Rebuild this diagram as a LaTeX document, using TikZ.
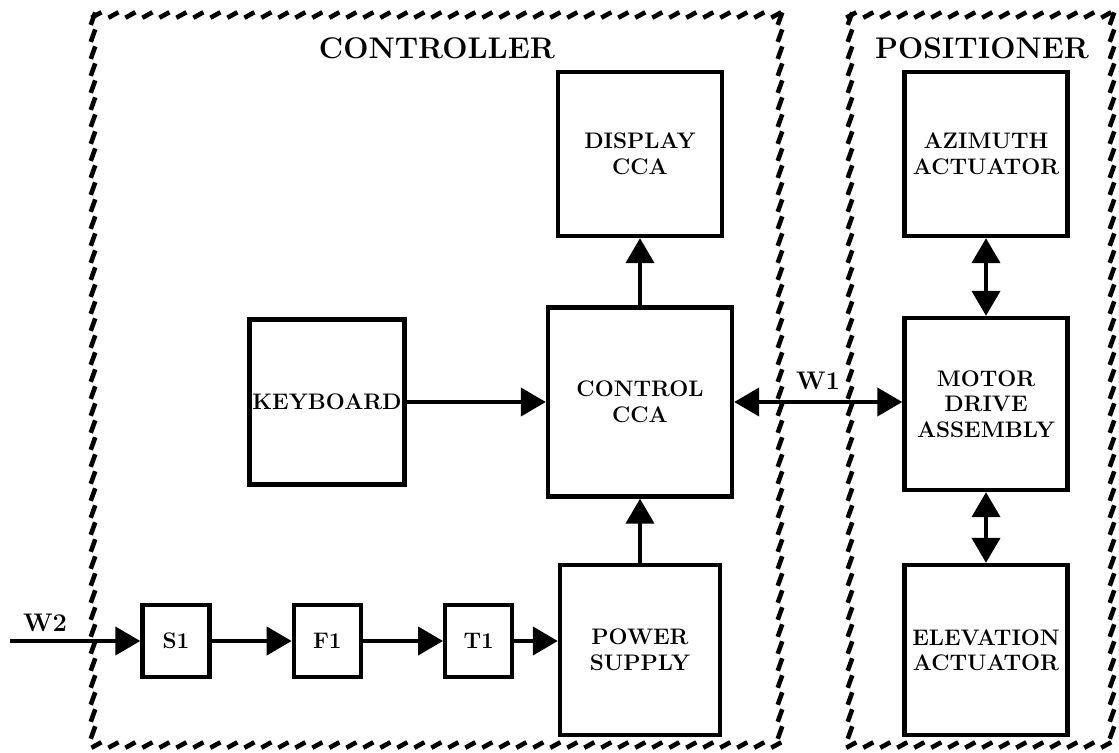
\documentclass[tikz,border=0pt]{standalone}
\usepackage{tikz}
\usetikzlibrary{positioning, arrows.meta, decorations.markings}

\begin{document}
\begin{tikzpicture}[x=0.02cm, y=-0.02cm,
      blk/.style={draw, line width=2.5pt, minimum width=3.26cm, minimum height=3.3cm, align=center, font=\fontsize{12.8}{14.5}\selectfont\bfseries, inner sep=0.5mm},
      sml/.style={draw, line width=2.5pt, minimum width=1.34cm, minimum height=1.44cm, font=\fontsize{12.8}{14.5}\selectfont\bfseries, inner sep=0.5mm},
      ttl/.style={font=\fontsize{17}{19}\selectfont\bfseries},
      lbl/.style={font=\fontsize{14.5}{16}\selectfont\bfseries},
      arr/.style={-{Triangle[length=5mm, width=5.6mm]}, line width=2.4pt},
      dbl/.style={{Triangle[length=5mm, width=5.6mm]}-{Triangle[length=5mm, width=5.6mm]}, line width=2.4pt},
      hatchh/.style={decorate, decoration={markings, mark=between positions 0.005 and 1 step 0.34cm with {\pgftransformresetnontranslations \draw[line width=2.6pt] (-0.1cm,-0.055cm) -- (0.1cm,0.055cm);}}},
      hatchv/.style={decorate, decoration={markings, mark=between positions 0.005 and 1 step 0.34cm with {\pgftransformresetnontranslations \draw[line width=2.6pt] (-0.045cm,-0.125cm) -- (0.045cm,0.125cm);}}}]
    \useasboundingbox (0,0) rectangle (1119,753);
    % dashed frames
    \foreach \xa/\xb in {93/780, 850/1112} {
      \path[hatchh] (\xa,15) -- (\xb,15);
      \path[hatchh] (\xa,745) -- (\xb,745);
      \path[hatchv] (\xa,15) -- (\xa,745);
      \path[hatchv] (\xb,15) -- (\xb,745);
    }
    \node[ttl] (ctrlttl) at (437,48) {CONTROLLER};
    \node[ttl] (posttl) at (982,48) {POSITIONER};
    % controller
    \node[blk, minimum width=3.68cm, minimum height=3.78cm] (ctrl) at (640,402) {CONTROL\\CCA};
    \node[blk, minimum width=3.28cm, minimum height=3.28cm] (disp) at (640,154) {DISPLAY\\CCA};
    \node[blk, minimum width=3.1cm] (keyb) at (327,402) {KEYBOARD};
    \node[blk, minimum width=3.2cm, minimum height=3.4cm] (pwr) at (640,650) {POWER\\SUPPLY};
    \node[sml] (s1) at (176,641) {S1};
    \node[sml, right=1.6cm of s1] (f1) {F1};
    \node[sml, right=1.6cm of f1] (t1) {T1};
    \coordinate (w2in) at (10,641);
    \node[lbl] (w2) at (45,623) {W2};
    % positioner
    \node[blk, minimum height=3.28cm] (azim) at (986,154) {AZIMUTH\\ACTUATOR};
    \node[blk, minimum height=3.44cm] (motor) at (986,404) {MOTOR\\DRIVE\\ASSEMBLY};
    \node[blk, minimum height=3.4cm] (elev) at (986,650) {ELEVATION\\ACTUATOR};
    \node[lbl] (w1) at (818,381) {W1};
    % connectors
    \draw[arr] (w2in) -- (s1);
    \draw[arr] (s1) -- (f1); \draw[arr] (f1) -- (t1); \draw[arr] (t1) -- (t1 -| pwr.west);
    \draw[arr] (pwr) -- (ctrl); \draw[arr] (ctrl) -- (disp);
    \draw[arr] (keyb) -- (ctrl);
    \draw[dbl] (ctrl.east) -- (ctrl.east -| motor.west);
    \draw[dbl] (azim) -- (motor); \draw[dbl] (motor) -- (elev);
  \end{tikzpicture}
\end{document}
